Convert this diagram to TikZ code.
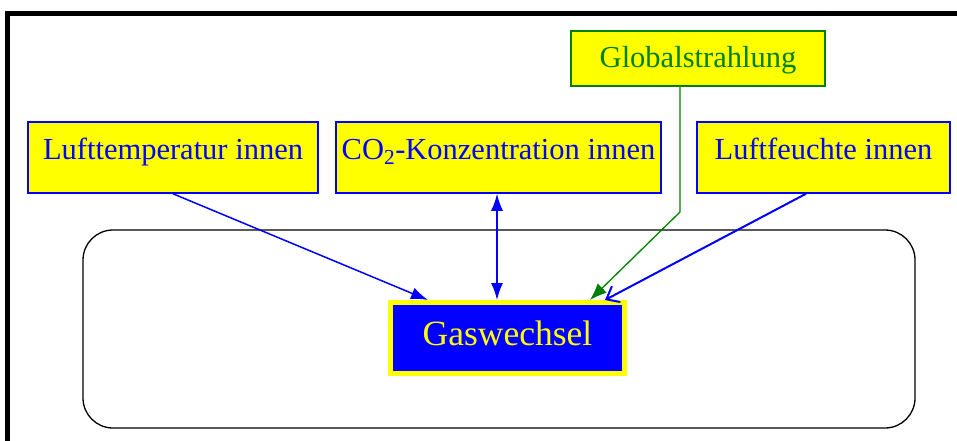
\documentclass[tikz,border=0pt]{standalone}
\usepackage{fontspec}
\setmainfont{Liberation Serif}
\usetikzlibrary{arrows.meta,calc}
\definecolor{ygreen}{RGB}{0,128,0}
\definecolor{ryellow}{RGB}{255,255,0}
\definecolor{rblue}{RGB}{0,0,255}
\begin{document}
\begin{tikzpicture}[x=1pt,y=-1pt,
  inbox/.style={draw=rblue,line width=1.5pt,fill=ryellow,text=rblue,inner sep=0pt,
    font=\fontsize{30.5}{36}\selectfont,minimum height=71pt,text height=12pt,text depth=9pt},
  gbox/.style={draw=ygreen,line width=1.5pt,fill=ryellow,text=ygreen,inner sep=0pt,
    font=\fontsize{30.5}{36}\selectfont,minimum height=55pt,minimum width=254pt,
    text height=20pt,text depth=1pt},
  gasbox/.style={draw=ryellow,line width=5pt,fill=rblue,text=ryellow,inner sep=0pt,
    font=\fontsize{35.5}{40}\selectfont,minimum width=234pt,minimum height=71pt,
    text height=18pt,text depth=2.6pt},
  bluearr/.style={draw=rblue,line width=1.5pt,-{Latex[length=17pt,width=12pt]}},
]
\useasboundingbox (0,0) rectangle (957,441);
% outer frame
\draw[line width=5pt] (7.5,445) -- (7.5,14) -- (962,14);
% container
\draw[line width=1.3pt,rounded corners=30pt] (83,230) rectangle (915,428);
% nodes
\node[inbox,minimum width=290pt] (lt) at (173,157.5) {Lufttemperatur innen};
\node[inbox,minimum width=325pt] (co) at (498.5,157.5) {CO\textsubscript{2}-Konzentration innen};
\node[inbox,minimum width=253pt] (lf) at (823.5,157.5) {Luftfeuchte innen};
\node[gbox] (gs) at (698,58.5) {Globalstrahlung};
\node[gasbox] (gas) at (507.5,338) {Gaswechsel};
\coordinate (bend) at (680,212);
% connectors
\draw[bluearr] (lt.south) -- ($(gas.north west)+(40,0)$);
\draw[draw=rblue,line width=1.5pt,{Latex[length=17pt,width=12pt]}-{Latex[length=17pt,width=12pt]}]
  (co.south -| 497,0) -- (gas.north -| 497,0);
\draw[draw=ygreen,line width=1.3pt,-{Latex[length=17pt,width=13pt]}]
  (gs.south -| bend) -- (bend) -- ($(gas.north west)+(202,0)$);
\draw[draw=rblue,line width=2pt,-{Straight Barb[length=11pt,width=18pt]}]
  (lf.south -| 806,0) -- ($(gas.north west)+(217,0)$);
\end{tikzpicture}
\end{document}
